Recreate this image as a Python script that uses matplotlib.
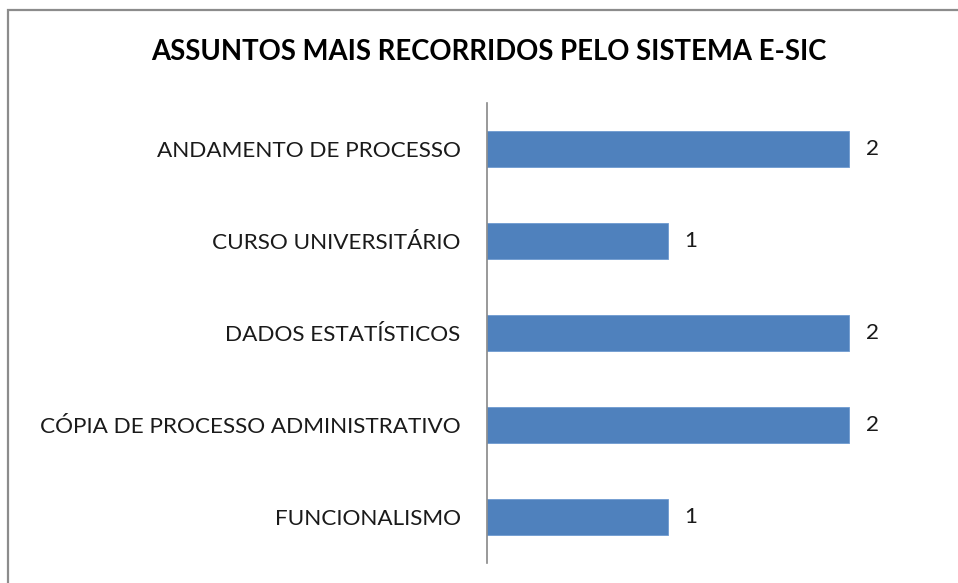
import matplotlib
matplotlib.use("Agg")
import matplotlib.pyplot as plt
from matplotlib.patches import Rectangle

categories = ["ANDAMENTO DE PROCESSO", "CURSO UNIVERSITÁRIO", "DADOS ESTATÍSTICOS",
              "CÓPIA DE PROCESSO ADMINISTRATIVO", "FUNCIONALISMO"]
values = [2, 1, 2, 2, 1]
title = "ASSUNTOS MAIS RECORRIDOS PELO SISTEMA E-SIC"

plt.rcParams['font.family'] = ['Lato', 'DejaVu Sans']

W, H = 958, 583
fig = plt.figure(figsize=(W / 100, H / 100), dpi=100)
fig.patch.set_facecolor("white")

# outer chart frame (cropped at right/bottom)
fig.patches.append(Rectangle((8 / W, -0.1), 1.2, 1 - 10 / H + 0.1, transform=fig.transFigure,
                             fill=False, edgecolor="#8c8c8c", linewidth=1.6))

left, right = 487 / W, (487 + 2.5 * 181) / W
top, bottom = 1 - 103 / H, 1 - 563 / H
ax = fig.add_axes([left, bottom, right - left, top - bottom])

y = list(range(len(categories)))
bars = ax.barh(y, values, height=0.39, color="#4F81BD", edgecolor="#6f9bd0", linewidth=0.6)
ax.set_xlim(0, 2.5)
ax.set_ylim(len(categories) - 0.5, -0.5)
ax.set_yticks(y)
ax.set_yticklabels(categories, fontsize=16.2, color="#1a1a1a")
ax.tick_params(axis="y", length=0, pad=19)
ax.set_xticks([])
for s in ["top", "right", "bottom"]:
    ax.spines[s].set_visible(False)
ax.spines["left"].set_color("#888888")
ax.spines["left"].set_linewidth(1.2)

ax.bar_label(bars, labels=[str(v) for v in values], padding=12, fontsize=16.2, color="#1a1a1a")

fig.text((152 + 825) / 2 / W, 1 - 52 / H, title, ha="center", va="center",
         fontsize=19.8, fontweight="bold", color="black")

fig.savefig("out.png", dpi=100, facecolor="white")
